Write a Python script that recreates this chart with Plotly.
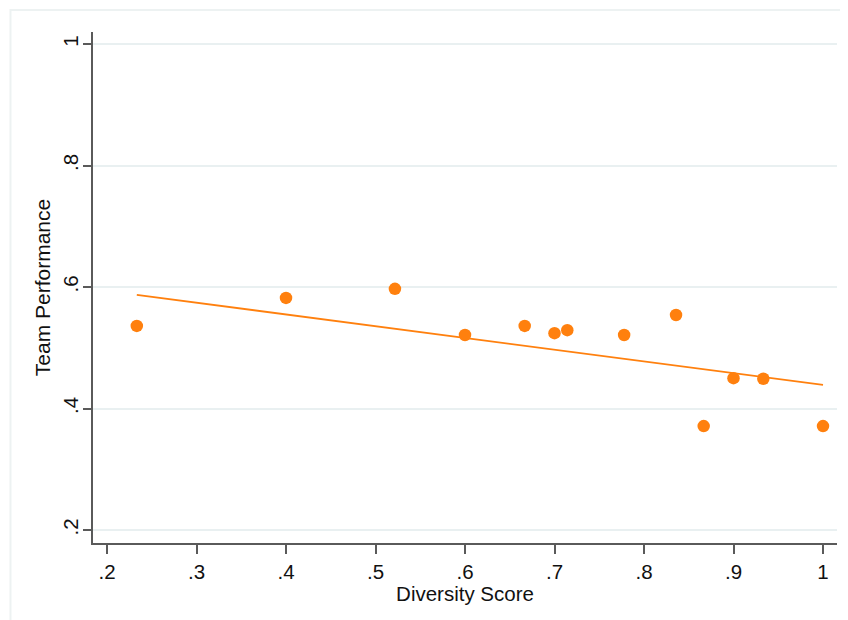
import plotly.graph_objects as go

# Data
diversity = [0.2333, 0.4, 0.5217, 0.6, 0.6667, 0.7, 0.7143, 0.7778, 0.8358, 0.8667, 0.9, 0.9333, 1.0]
performance = [0.536, 0.582, 0.597, 0.521, 0.536, 0.524, 0.529, 0.521, 0.554, 0.371, 0.450, 0.449, 0.371]

# Fitted line endpoints
fit_x = [0.2333, 1.0]
fit_y = [0.587, 0.439]

x_ticks = [0.2, 0.3, 0.4, 0.5, 0.6, 0.7, 0.8, 0.9, 1.0]
x_labels = [".2", ".3", ".4", ".5", ".6", ".7", ".8", ".9", "1"]
y_ticks = [0.2, 0.4, 0.6, 0.8, 1.0]
y_labels = [".2", ".4", ".6", ".8", "1"]

ORANGE = "#ff800e"
AXIS = "#5a5a5a"
GRID = "#e9f0f1"
FONT = "Liberation Sans, Arial, sans-serif"

fig = go.Figure()
fig.add_trace(go.Scatter(
    x=fit_x, y=fit_y, mode="lines",
    line=dict(color=ORANGE, width=1.8), showlegend=False, hoverinfo="skip"))
fig.add_trace(go.Scatter(
    x=diversity, y=performance, mode="markers",
    marker=dict(color=ORANGE, size=12.5, line=dict(width=0)), showlegend=False))

fig.update_layout(
    width=848, height=620,
    margin=dict(l=85, r=19, t=24, b=85),
    paper_bgcolor="white", plot_bgcolor="white",
    font=dict(family=FONT, color="#111111", size=20),
    shapes=[dict(type="rect", xref="paper", yref="paper",
                 x0=-0.1109, x1=1.05, y0=-0.2, y1=1.0431,
                 line=dict(color="#edf2f2", width=2), fillcolor="rgba(0,0,0,0)",
                 layer="below")],
)
fig.update_xaxes(
    range=[0.18436, 1.01564], tickmode="array", tickvals=x_ticks, ticktext=x_labels,
    showgrid=False, zeroline=False, showline=True, linecolor=AXIS, linewidth=1.8,
    ticks="outside", ticklen=9, tickwidth=1.6, tickcolor=AXIS,
    tickfont=dict(size=20.5, family=FONT, color="#111111"),
    title=dict(text="Diversity Score", font=dict(size=20.5, family=FONT, color="#111111"), standoff=2),
)
fig.update_yaxes(
    range=[0.1786, 1.0198], tickmode="array", tickvals=y_ticks, ticktext=y_labels,
    showgrid=True, gridcolor=GRID, gridwidth=1.6, zeroline=False,
    showline=True, linecolor=AXIS, linewidth=1.8,
    ticks="outside", ticklen=8, tickwidth=1.6, tickcolor=AXIS, tickangle=-90,
    ticklabelstandoff=-3,
    tickfont=dict(size=20.5, family=FONT, color="#111111"),
    title=dict(text="Team Performance", font=dict(size=21, family=FONT, color="#111111"), standoff=3),
)

fig.write_html("out.html")
